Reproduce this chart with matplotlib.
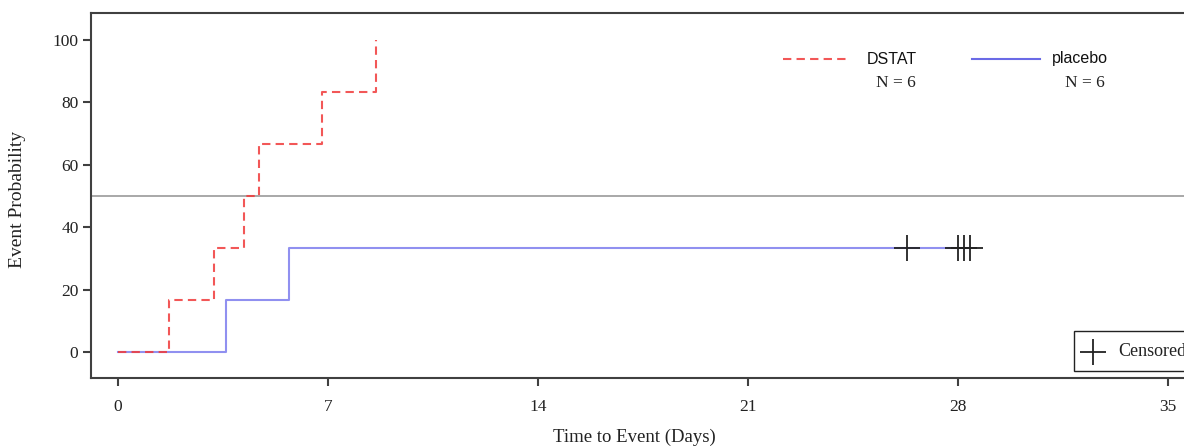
import matplotlib
matplotlib.use("Agg")
import matplotlib.pyplot as plt
from matplotlib.lines import Line2D
from matplotlib.patches import Rectangle

# Kaplan-Meier style cumulative event probability (%)
dstat_times = [0, 1.7, 3.2, 4.2, 4.7, 6.8, 8.6]
dstat_prob = [0, 16.7, 33.3, 50.0, 66.7, 83.3, 100.0]

placebo_times = [0, 3.6, 5.7, 28.4]
placebo_prob = [0, 16.7, 33.3, 33.3]

# censored placebo subjects
placebo_cens_times = [26.3, 28.0, 28.2, 28.4]
placebo_cens_prob = [33.3, 33.3, 33.3, 33.3]

x_ticks = [0, 7, 14, 21, 28, 35]
y_ticks = [0, 20, 40, 60, 80, 100]
median_line = 50

W, H = 1184, 447
SERIF = "Liberation Serif"
SANS = "Liberation Sans"

fig = plt.figure(figsize=(W / 100, H / 100), dpi=100)


def fx(px):
    return px / W


def fy(py):
    return 1 - py / H


# axes runs past the right edge, like the cropped original
ax = fig.add_axes([fx(91), fy(378), fx(1213) - fx(91), fy(13) - fy(378)])
ax.set_xlim(-0.9, 36.5)
ax.set_ylim(-8.33, 108.65)

ax.axhline(median_line, color="#9a9a9a", linewidth=1.2, zorder=1)

ax.step(placebo_times, placebo_prob, where="post", color="#9090f0",
        linewidth=1.5, zorder=2)
ax.step(dstat_times, dstat_prob, where="post", color="#f03a3a", alpha=0.85,
        linewidth=1.5, dashes=(4, 2.5), zorder=3)
ax.plot(placebo_cens_times, placebo_cens_prob, linestyle="none", marker="+",
        markersize=19, markeredgewidth=1.3, color="#222222", zorder=4)

ax.set_xticks(x_ticks)
ax.set_yticks(y_ticks)
for lab in ax.get_xticklabels() + ax.get_yticklabels():
    lab.set_fontfamily(SERIF)
    lab.set_fontsize(12.5)
    lab.set_color("#222222")
ax.tick_params(axis="x", length=6, width=1.5, pad=9, color="#404040")
ax.tick_params(axis="y", length=6, width=1.5, pad=3, color="#404040")
for s in ["left", "bottom", "top", "right"]:
    ax.spines[s].set_linewidth(1.5)
    ax.spines[s].set_color("#404040")

fig.text(fx(634), fy(437), "Time to Event (Days)", ha="center", va="center",
         fontfamily=SERIF, fontsize=13.5, color="#222222")
fig.text(fx(18), fy(199), "Event Probability", ha="center", va="center",
         rotation=90, fontfamily=SERIF, fontsize=14, color="#222222")

# group legend
fig.add_artist(Line2D([fx(783), fx(850)], [fy(59), fy(59)], color="#f03a3a",
                      alpha=0.85, linewidth=1.5, dashes=(4, 2.5)))
fig.text(fx(867), fy(59), "DSTAT", ha="left", va="center",
         fontfamily=SANS, fontsize=11.5, color="#111111")
fig.text(fx(916), fy(83), "N = 6", ha="right", va="center",
         fontfamily=SERIF, fontsize=12.5, color="#222222")

fig.add_artist(Line2D([fx(972), fx(1040)], [fy(59), fy(59)], color="#6a6ae6",
                      linewidth=1.5))
fig.text(fx(1052), fy(59), "placebo", ha="left", va="center",
         fontfamily=SANS, fontsize=11.5, color="#111111")
fig.text(fx(1105), fy(83), "N = 6", ha="right", va="center",
         fontfamily=SERIF, fontsize=12.5, color="#222222")

# censored legend box
fig.add_artist(Rectangle((fx(1074), fy(371)), fx(140), fy(331) - fy(371),
                         facecolor="white", edgecolor="#222222", linewidth=1.0))
fig.add_artist(Line2D([fx(1093)], [fy(352)], marker="+", markersize=19,
                      markeredgewidth=1.3, color="#222222", linestyle="none"))
fig.text(fx(1118), fy(352), "Censored", ha="left", va="center",
         fontfamily=SERIF, fontsize=13, color="#222222")

fig.savefig("out.png", dpi=100)
